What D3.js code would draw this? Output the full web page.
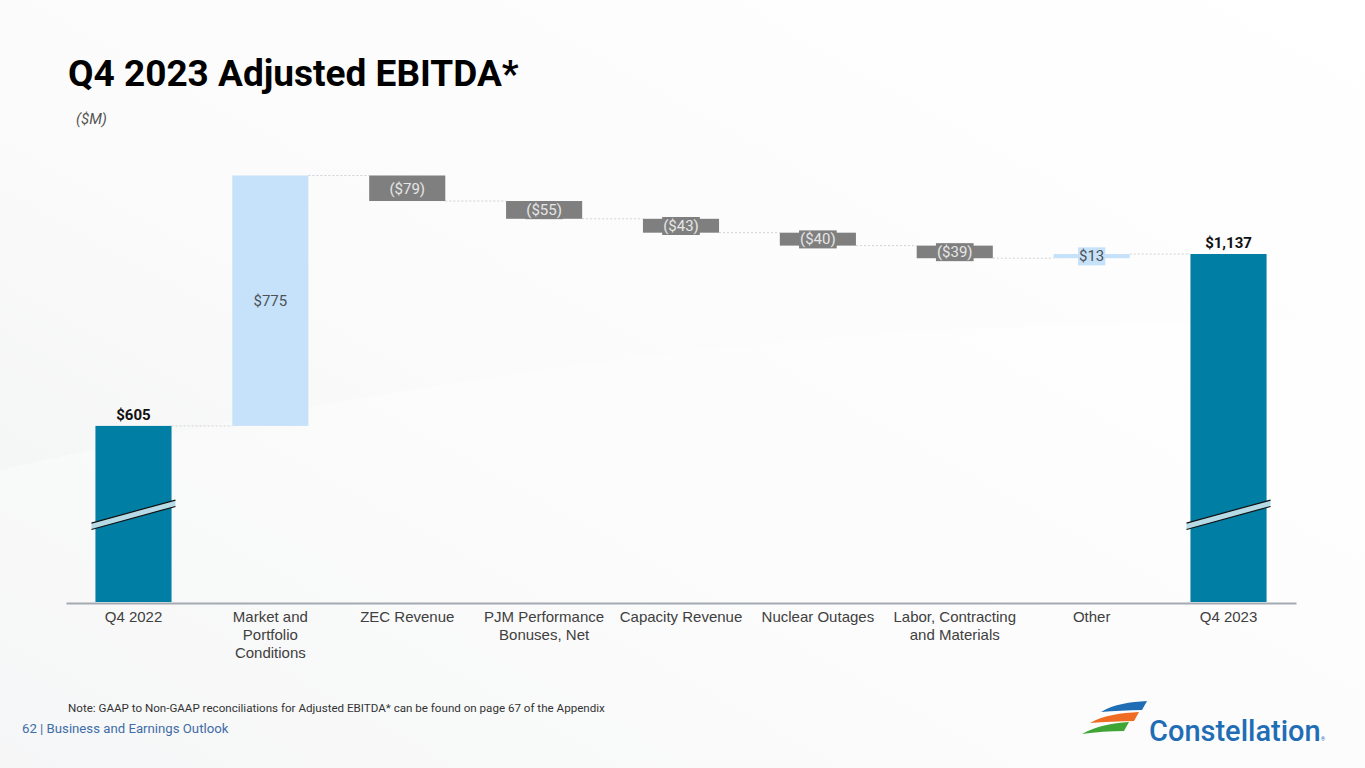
<!DOCTYPE html>
<html>
<head>
<meta charset="utf-8">
<script src="https://cdn.jsdelivr.net/npm/d3@7"></script>
<style>
  body { margin: 0; background: #fff; }
  svg { display: block; font-family: Roboto, "Liberation Sans", sans-serif; }
</style>
</head>
<body>
<div class="chart"></div>
<script>
let w = 1365;
let h = 768;

// chart data
const categories = ["Q4 2022", "Market and\nPortfolio\nConditions", "ZEC Revenue", "PJM Performance\nBonuses, Net",
  "Capacity Revenue", "Nuclear Outages", "Labor, Contracting\nand Materials", "Other", "Q4 2023"];
const values = [605, 775, -79, -55, -43, -40, -39, 13, 1137];
const kinds = ["total", "up", "down", "down", "down", "down", "down", "up", "total"];
const valueLabels = ["$605", "$775", "($79)", "($55)", "($43)", "($40)", "($39)", "$13", "$1,137"];
const axisMin = 60;   // axis is broken, bars for totals start here
const breakValue = 330;

// running totals
let run = 0;
const bars = values.map((v, i) => {
  let b;
  if (kinds[i] == "total") { b = {start: axisMin, end: v}; run = v; }
  else { b = {start: run, end: run + v}; run = run + v; }
  b.cat = categories[i]; b.kind = kinds[i]; b.label = valueLabels[i]; b.value = v;
  return b;
});

const svg = d3.select(".chart").append("svg").attr("width", w).attr("height", h);

// background
const defs = svg.append("defs");
const bg = defs.append("linearGradient").attr("id", "bg").attr("x1", "0").attr("y1", "1").attr("x2", "1").attr("y2", "0");
bg.append("stop").attr("offset", "0").attr("stop-color", "#f1f2f3");
bg.append("stop").attr("offset", "0.45").attr("stop-color", "#fbfbfb");
bg.append("stop").attr("offset", "1").attr("stop-color", "#ffffff");
svg.append("rect").attr("width", w).attr("height", h).attr("fill", "url(#bg)");
svg.append("path").attr("d", "M0,470 C400,380 900,300 1365,330 L1365,768 L0,768 Z").attr("fill", "#ffffff").attr("opacity", 0.35);

// titles
svg.append("text").attr("x", 68).attr("y", 86).attr("font-size", 37).attr("font-weight", 700)
  .attr("fill", "#000").text("Q4 2023 Adjusted EBITDA*");
svg.append("text").attr("x", 76).attr("y", 124).attr("font-size", 15).attr("font-style", "italic")
  .attr("fill", "#555").text("($M)");

const xScale = d3.scaleBand().domain(categories).range([66, 1296]).paddingInner(0.444).paddingOuter(0.215);
const yScale = d3.scaleLinear().domain([axisMin, 1380]).range([602, 175.5]);
const bw = xScale.bandwidth();

// connectors
svg.append("g").selectAll("line").data(bars.slice(0, -1)).enter().append("line")
  .attr("x1", d => xScale(d.cat) + bw)
  .attr("x2", (d, i) => xScale(categories[i + 1]))
  .attr("y1", d => yScale(d.end)).attr("y2", d => yScale(d.end))
  .attr("stroke", "#cfd2d4").attr("stroke-width", 1).attr("stroke-dasharray", "2,2");

const colorOf = d => d.kind == "total" ? "#007ea4" : (d.kind == "up" ? "#c6e2fa" : "#7f7f7f");

svg.append("g").selectAll("rect").data(bars).enter().append("rect")
  .attr("x", d => xScale(d.cat))
  .attr("width", bw)
  .attr("y", d => yScale(Math.max(d.start, d.end)))
  .attr("height", d => Math.abs(yScale(d.start) - yScale(d.end)))
  .attr("fill", colorOf);

// axis break marks
const brk = svg.append("g");
bars.filter(d => d.kind == "total").forEach(d => {
  const cx = xScale(d.cat) + bw / 2;
  const cy = yScale(breakValue);
  const x0 = cx - 42, x1 = cx + 42, dy = 11.5, t = 3.2;
  brk.append("path")
    .attr("d", `M${x0},${cy + dy - t}L${x1},${cy - dy - t}L${x1},${cy - dy + t}L${x0},${cy + dy + t}Z`)
    .attr("fill", "#b6dbe6");
  [-t, t].forEach(o => brk.append("line")
    .attr("x1", x0).attr("y1", cy + dy + o).attr("x2", x1).attr("y2", cy - dy + o)
    .attr("stroke", "#111").attr("stroke-width", 1.2));
});

// value labels
const lab = svg.append("g").attr("font-size", 15);
bars.forEach(d => {
  const cx = xScale(d.cat) + bw / 2;
  if (d.kind == "total") {
    lab.append("text").attr("x", cx).attr("y", yScale(d.end) - 6).attr("text-anchor", "middle")
      .attr("font-weight", 700).attr("fill", "#111").text(d.label);
    return;
  }
  const cy = (yScale(d.start) + yScale(d.end)) / 2;
  const g = lab.append("g");
  const txt = g.append("text").attr("x", cx).attr("y", cy).attr("dy", "0.35em").attr("text-anchor", "middle")
    .attr("fill", d.kind == "down" ? "#e6e6e6" : "#4d5257").text(d.label);
  if (d.kind == "up" && Math.abs(yScale(d.start) - yScale(d.end)) > 30) return;
  const bb = txt.node().getBBox();
  g.insert("rect", "text").attr("x", bb.x - 1).attr("y", bb.y).attr("width", bb.width + 2).attr("height", bb.height)
    .attr("fill", colorOf(d));
});

// x axis
const xAxis = d3.axisBottom(xScale).tickSize(0).tickFormat("");
const ax = svg.append("g").attr("transform", "translate(0,603)").call(xAxis);
ax.select(".domain").attr("stroke", "#a3aab1").attr("stroke-width", 2);
ax.selectAll(".tick").each(function(d) {
  const t = d3.select(this).append("text").attr("y", 19).attr("fill", "#404040")
    .attr("font-size", 15).attr("text-anchor", "middle");
  d.split("\n").forEach((s, i) => t.append("tspan").attr("x", 0).attr("dy", i == 0 ? 0 : 18).text(s));
});

// footer
svg.append("text").attr("x", 68).attr("y", 712).attr("font-size", 11.6).attr("fill", "#333")
  .text("Note: GAAP to Non-GAAP reconciliations for Adjusted EBITDA* can be found on page 67 of the Appendix");
svg.append("text").attr("x", 22).attr("y", 733).attr("font-size", 13.2).attr("fill", "#3f6da8")
  .text("62 | Business and Earnings Outlook");

// logo
const logo = svg.append("g");
logo.append("path").attr("d", "M1101,712 C1114,704 1130,702 1147,701 L1142,710 C1128,710 1114,711 1101,712 Z").attr("fill", "#1f6db5");
logo.append("path").attr("d", "M1090,723 C1104,715 1121,713 1139,712 L1134,721 C1119,721 1104,722 1090,723 Z").attr("fill", "#ef6c22");
logo.append("path").attr("d", "M1082,734 C1096,726 1112,723 1129,722 L1124,731 C1110,731 1096,732 1082,734 Z").attr("fill", "#3fa535");
logo.append("text").attr("x", 1149).attr("y", 741).attr("font-size", 29).attr("font-weight", 500)
  .attr("fill", "#1f6db5").text("Constellation");
logo.append("text").attr("x", 1321).attr("y", 741).attr("font-size", 5).attr("fill", "#1f6db5").text("®");
</script>
</body>
</html>
